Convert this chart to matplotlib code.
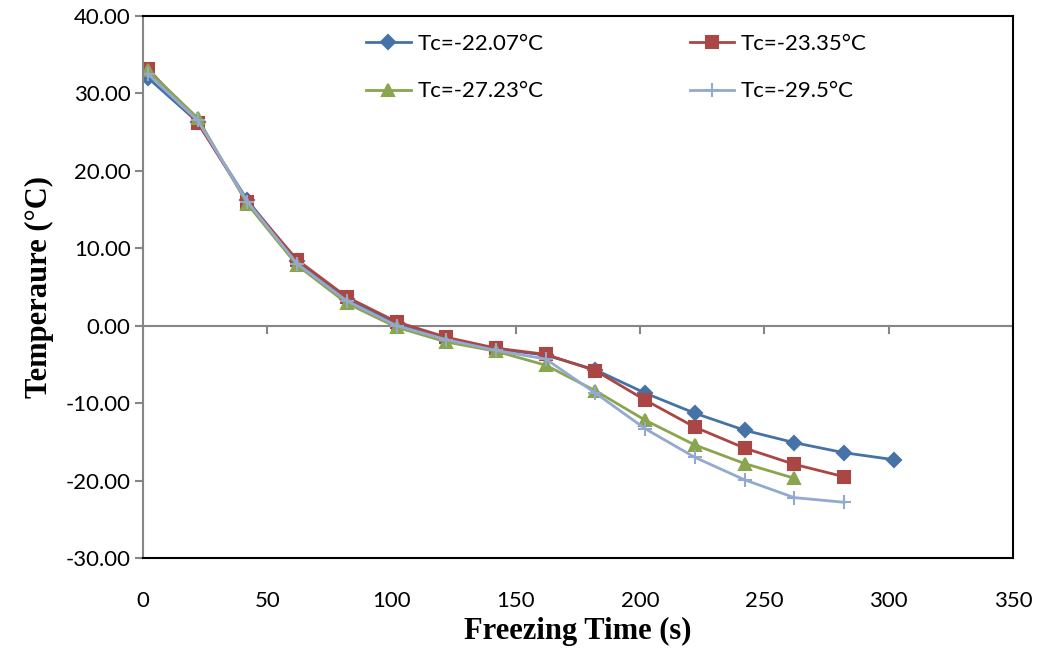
import matplotlib.pyplot as plt
from matplotlib import font_manager

# freezing curves
time_s = [2, 22, 42, 62, 82, 102, 122, 142, 162, 182, 202, 222, 242, 262, 282, 302]
t_2207 = [32.0, 26.3, 16.2, 8.3, 3.5, 0.3, -1.7, -3.0, -3.8, -5.7, -8.7, -11.3, -13.5, -15.1, -16.4, -17.3]
t_2335 = [33.2, 26.2, 16.0, 8.5, 3.7, 0.5, -1.5, -2.9, -3.7, -5.8, -9.6, -13.1, -15.8, -17.9, -19.5]
t_2723 = [33.0, 26.8, 15.7, 7.8, 2.9, -0.2, -2.1, -3.3, -5.1, -8.4, -12.2, -15.4, -17.8, -19.7]
t_2950 = [32.5, 26.5, 16.0, 8.0, 3.2, 0.0, -1.8, -3.2, -4.3, -8.7, -13.3, -17.0, -19.9, -22.2, -22.8]

labels = ["Tc=-22.07°C", "Tc=-23.35°C", "Tc=-27.23°C", "Tc=-29.5°C"]
x_ticks = [0, 50, 100, 150, 200, 250, 300, 350]
y_ticks = [-30, -20, -10, 0, 10, 20, 30, 40]

names = {f.name for f in font_manager.fontManager.ttflist}
tick_font = "Lato" if "Lato" in names else "DejaVu Sans"

fig = plt.figure(figsize=(10.37, 6.5), dpi=100)
ax = fig.add_axes([0.1379, 0.1415, 0.839, 0.834])

styles = [
    ("#4572a7", "D", 7),
    ("#aa4643", "s", 8),
    ("#89a54e", "^", 9),
    ("#93a9cf", "+", 10),
]
series = [t_2207, t_2335, t_2723, t_2950]
handles = []
for vals, lab, (col, mk, ms) in zip(series, labels, styles):
    h, = ax.plot(time_s[:len(vals)], vals, color=col, lw=2, marker=mk, ms=ms,
                 mew=1.5, label=lab)
    handles.append(h)

ax.set_xlim(0, 350)
ax.set_ylim(-30, 40)
ax.set_xticks(x_ticks)
ax.set_yticks(y_ticks)
ax.set_xticklabels([str(v) for v in x_ticks])
ax.set_yticklabels([f"{v:.2f}" for v in y_ticks])

for lab in ax.get_xticklabels() + ax.get_yticklabels():
    lab.set_fontfamily(tick_font)
    lab.set_fontsize(16)

# frame: black top/right/bottom, gray left axis, x axis at zero
for side in ["top", "right", "bottom"]:
    ax.spines[side].set_color("black")
    ax.spines[side].set_linewidth(1.5)
ax.spines["left"].set_color("#868686")
ax.spines["left"].set_linewidth(1.5)
ax.axhline(0, color="#868686", lw=1.5, zorder=1)
for xv in x_ticks:
    ax.plot([xv, xv], [0, -0.9], color="#868686", lw=1.5, zorder=1)
ax.tick_params(axis="x", length=0, pad=24)
ax.tick_params(axis="y", length=6, width=1.5, color="#868686", pad=3)

ax.set_xlabel("Freezing Time (s)", fontfamily="Liberation Serif",
              fontweight="bold", fontsize=22, labelpad=4)
ax.set_ylabel("Temperaure (°C)", fontfamily="Liberation Serif",
              fontweight="bold", fontsize=22, labelpad=8)

# row-wise legend order
order = [0, 2, 1, 3]
ax.legend([handles[i] for i in order], [labels[i] for i in order],
          loc="upper left", bbox_to_anchor=(0.236, 1.0), ncol=2, frameon=False,
          prop={"family": tick_font, "size": 16}, columnspacing=6.6,
          handlelength=2.0, labelspacing=1.25, borderaxespad=0.4,
          handletextpad=0.3)

fig.savefig("out.png", dpi=100)
